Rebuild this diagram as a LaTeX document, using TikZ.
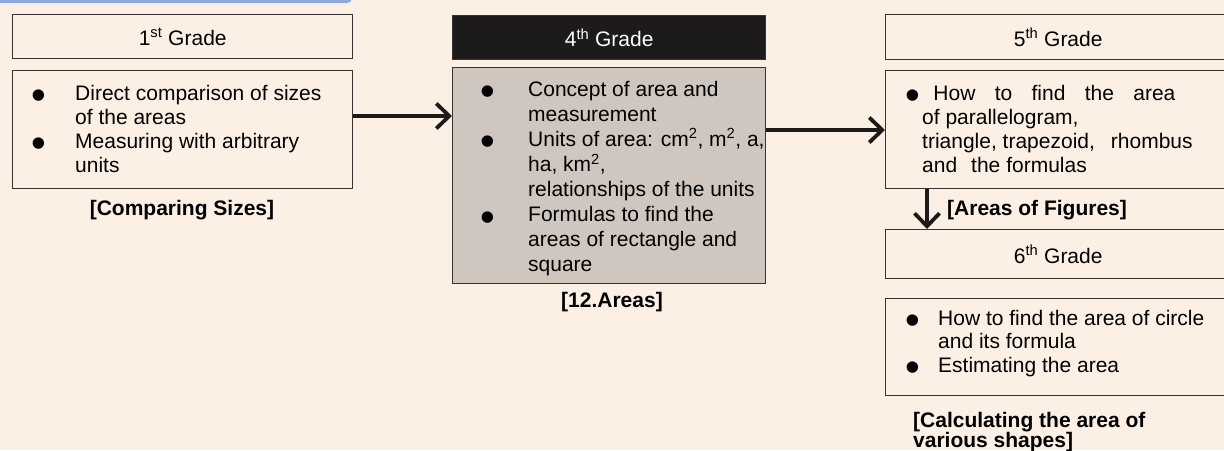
\documentclass[tikz,border=0pt]{standalone}
\usepackage{fontspec}
\setmainfont{Liberation Sans}
\usetikzlibrary{arrows.meta}
\definecolor{fondo}{RGB}{252,240,228}
\definecolor{azul}{RGB}{140,170,220}
\definecolor{borde}{RGB}{55,52,50}
\definecolor{gris}{RGB}{207,199,191}
\definecolor{negro}{RGB}{28,26,26}
\newcommand{\punto}{\smash{\raisebox{-9.5pt}{\fontsize{42}{24}\selectfont\textbullet}}}

\begin{document}
\begin{tikzpicture}[x=1pt,y=-1pt,
    caja/.style={draw=borde, line width=1.4pt, inner sep=0pt, anchor=north west, font=\fontsize{21}{24}\selectfont},
    lista/.style={anchor=base west, inner sep=0pt},
    etiqueta/.style={inner sep=0pt, font=\fontsize{21}{24}\selectfont\bfseries},
    flecha/.style={draw=negro, line width=3.8pt, -{Straight Barb[length=13pt,width=25pt,line width=3.8pt]}}]

\useasboundingbox (0,0) rectangle (1224,450);
\fill[fondo] (0,0) rectangle (1224,450);
\clip (0,0) rectangle (1224,450);
\fill[azul, rounded corners=5pt] (-10,-10) rectangle (352,3);   %pestana

% primer grado
\node[caja, minimum width=340pt, minimum height=44pt] (t1) at (12,14) {1\textsuperscript{st} Grade};
\node[caja, minimum width=340pt, minimum height=118pt] (c1) at (12,70) {};
\node[lista] (l1) at (31,100) {\fontsize{21}{24}\selectfont\begin{tabular}[t]{@{}p{44pt}@{}l@{}}
\punto & Direct comparison of sizes\\
 & of the areas\\
\punto & Measuring with arbitrary\\
 & units
\end{tabular}};
\node[etiqueta, anchor=base] (e1) at (182,215) {[Comparing Sizes]};

% cuarto grado
\node[caja, fill=negro, text=white, minimum width=313pt, minimum height=44pt] (t4) at (452,15) {4\textsuperscript{th} Grade};
\node[caja, fill=gris, minimum width=313pt, minimum height=216pt] (c4) at (452,67) {};
\node[lista] (l4) at (480,96) {\fontsize{21}{25}\selectfont\begin{tabular}[t]{@{}p{48pt}@{}l@{}}
\punto & Concept of area and\\
 & measurement\\
\punto & Units of area: cm\textsuperscript{2}, m\textsuperscript{2}, a,\\
 & ha, km\textsuperscript{2},\\
 & relationships of the units\\
\punto & Formulas to find the\\
 & areas of rectangle and\\
 & square
\end{tabular}};
\node[etiqueta, anchor=base] (e4) at (612,307) {[12.Areas]};

% quinto grado
\node[caja, minimum width=345pt, minimum height=45pt] (t5) at (885,14) {5\textsuperscript{th} Grade};
\node[caja, minimum width=345pt, minimum height=118pt] (c5) at (885,70) {};
\node[lista] (l5) at (922,100) {\fontsize{21}{24}\selectfont\begin{tabular}[t]{@{}l@{}}
\hspace*{-17pt}\punto\hspace{13.5pt}\makebox[242pt][s]{How to find the area}\\
of parallelogram,\\
triangle, trapezoid,\hspace{16pt}rhombus\\
and\hspace{14pt}the formulas
\end{tabular}};
\node[etiqueta, anchor=base west] (e5) at (947,215) {[Areas of Figures]};

% sexto grado
\node[caja, minimum width=345pt, minimum height=49pt] (t6) at (885,229) {6\textsuperscript{th} Grade};
\node[caja, minimum width=345pt, minimum height=97pt] (c6) at (885,298) {};
\node[lista] (l6) at (905,325) {\fontsize{21}{23.5}\selectfont\begin{tabular}[t]{@{}p{33pt}@{}l@{}}
\punto & How to find the area of circle\\
 & and its formula\\
\punto & Estimating the area
\end{tabular}};
\node[lista] (e6) at (913,427) {\fontsize{21}{18.5}\selectfont\bfseries\begin{tabular}[t]{@{}l@{}}
[Calculating the area of\\
various shapes]
\end{tabular}};

% flechas
\draw[flecha] (c1.east |- 0,116) -- (c4.west |- 0,116);
\draw[flecha] (c4.east |- 0,130) -- (c5.west |- 0,130);
\draw[flecha] (c5.south -| 927,0) -- (t6.north -| 927,0);

\end{tikzpicture}
\end{document}
